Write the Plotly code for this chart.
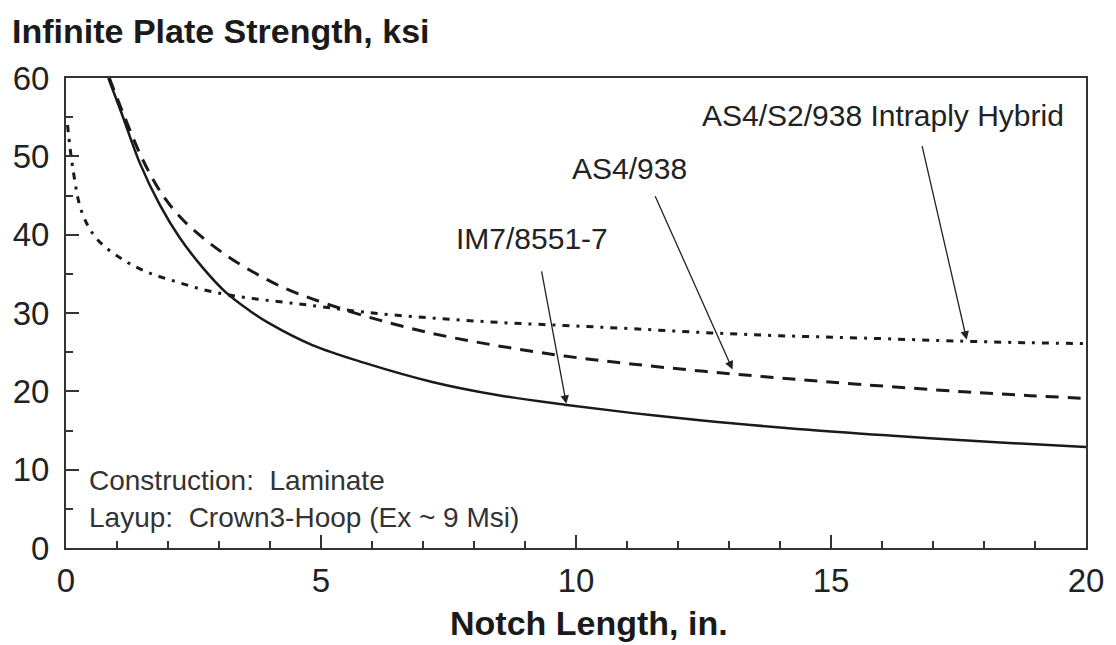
import plotly.graph_objects as go

# ---- data ----
im7_x = [0.83, 1.09, 1.45, 1.84, 2.23, 2.68, 3.14, 3.60, 3.98, 4.83, 5.87, 7.18, 8.48, 9.78, 11.08, 12.38, 14.34, 16.29, 18.24, 20.0]
im7_y = [60.0, 55.5, 49.1, 43.8, 39.6, 35.8, 32.6, 30.3, 28.7, 25.9, 23.6, 21.2, 19.5, 18.3, 17.25, 16.35, 15.2, 14.3, 13.5, 12.9]

as4_x = [0.85, 1.12, 1.51, 1.90, 2.29, 2.78, 3.27, 3.79, 4.31, 4.83, 5.87, 7.18, 8.48, 9.78, 11.08, 12.51, 14.0, 15.64, 17.6, 18.9, 20.0]
as4_y = [60.0, 55.5, 49.5, 45.0, 41.9, 39.1, 36.8, 34.8, 33.1, 31.8, 29.6, 27.4, 25.8, 24.5, 23.5, 22.55, 21.7, 20.85, 19.95, 19.45, 19.1]

hyb_x = [0.03, 0.14, 0.31, 0.60, 1.12, 1.64, 2.16, 2.68, 3.20, 3.72, 4.24, 4.77, 5.87, 7.18, 8.48, 9.78, 11.08, 12.51, 14.0, 15.64, 17.6, 18.9, 20.0]
hyb_y = [54.0, 48.2, 42.9, 39.5, 36.8, 35.1, 34.0, 33.0, 32.3, 31.8, 31.4, 31.0, 30.1, 29.35, 28.8, 28.4, 28.0, 27.5, 27.1, 26.8, 26.4, 26.2, 26.1]

x_ticks = [0, 5, 10, 15, 20]
y_ticks = [0, 10, 20, 30, 40, 50, 60]

labels = ["IM7/8551-7", "AS4/938", "AS4/S2/938 Intraply Hybrid"]
label_pos = [(9.14, 39.5), (11.05, 48.5), (16.02, 55.2)]
arrow_tail = [(9.32, 35.5), (11.54, 45.1), (16.78, 51.5)]
arrow_tip = [(9.81, 18.4), (13.07, 22.8), (17.66, 26.6)]

FONT = "Arial, Liberation Sans, sans-serif"
INK = "#1a1a1a"

fig = go.Figure()
fig.add_trace(go.Scatter(x=im7_x, y=im7_y, mode="lines", line=dict(color=INK, width=2.5, shape="spline"), name=labels[0]))
fig.add_trace(go.Scatter(x=as4_x, y=as4_y, mode="lines", line=dict(color=INK, width=3, dash="13px,9px", shape="spline"), name=labels[1]))
fig.add_trace(go.Scatter(x=hyb_x, y=hyb_y, mode="lines", line=dict(color=INK, width=3, dash="7px,7px,3px,7px", shape="spline"), name=labels[2]))

for txt, (lx, ly) in zip(labels, label_pos):
    fig.add_annotation(x=lx, y=ly, text=txt, showarrow=False, xref="x", yref="y",
                       font=dict(family=FONT, size=30, color="#222"), xanchor="center", yanchor="middle")

for (tx, ty), (hx, hy) in zip(arrow_tail, arrow_tip):
    fig.add_annotation(x=hx, y=hy, ax=tx, ay=ty, xref="x", yref="y", axref="x", ayref="y",
                       text="", showarrow=True, arrowhead=2, arrowsize=1.3, arrowwidth=1.3, arrowcolor="#222")

fig.add_annotation(x=0.41, y=8.6, text="Construction:&nbsp; Laminate", showarrow=False, xref="x", yref="y",
                   xanchor="left", yanchor="middle", font=dict(family=FONT, size=28, color="#333"))
fig.add_annotation(x=0.41, y=3.9, text="Layup:&nbsp; Crown3-Hoop (Ex ~ 9 Msi)", showarrow=False, xref="x", yref="y",
                   xanchor="left", yanchor="middle", font=dict(family=FONT, size=28, color="#333"))

# x-axis title
fig.add_annotation(x=(591 - 66) / 1024, y=-(623 - 548) / 470, xref="paper", yref="paper",
                   text="<b>Notch Length, in.</b>", showarrow=False, xanchor="center", yanchor="middle",
                   font=dict(family=FONT, size=34, color=INK))

fig.update_layout(
    width=1116, height=645,
    margin=dict(l=66, r=26, t=78, b=97),
    paper_bgcolor="white", plot_bgcolor="white",
    showlegend=False,
    title=dict(text="<b>Infinite Plate Strength, ksi</b>", x=12/1116, xanchor="left",
               y=1-31/645, yanchor="middle", font=dict(family=FONT, size=34, color=INK)),
    font=dict(family=FONT, color=INK),
)
fig.update_xaxes(range=[0, 20], tickvals=x_ticks, ticks="inside", ticklen=13, tickwidth=1.5, tickcolor="#333",
                 minor=dict(dtick=1, ticks="inside", ticklen=7, tickwidth=1.5, tickcolor="#333"),
                 showline=True, linecolor="#333", linewidth=2, mirror=True, showgrid=False, zeroline=False,
                 tickfont=dict(family=FONT, size=33, color="#222"), ticklabelstandoff=2)
fig.update_yaxes(range=[0, 60], tickvals=y_ticks, ticks="inside", ticklen=13, tickwidth=1.5, tickcolor="#333",
                 minor=dict(dtick=5, ticks="inside", ticklen=7, tickwidth=1.5, tickcolor="#333"),
                 showline=True, linecolor="#333", linewidth=2, mirror=True, showgrid=False, zeroline=False,
                 tickfont=dict(family=FONT, size=33, color="#222"), ticklabelstandoff=8)

fig.write_html("out.html")
